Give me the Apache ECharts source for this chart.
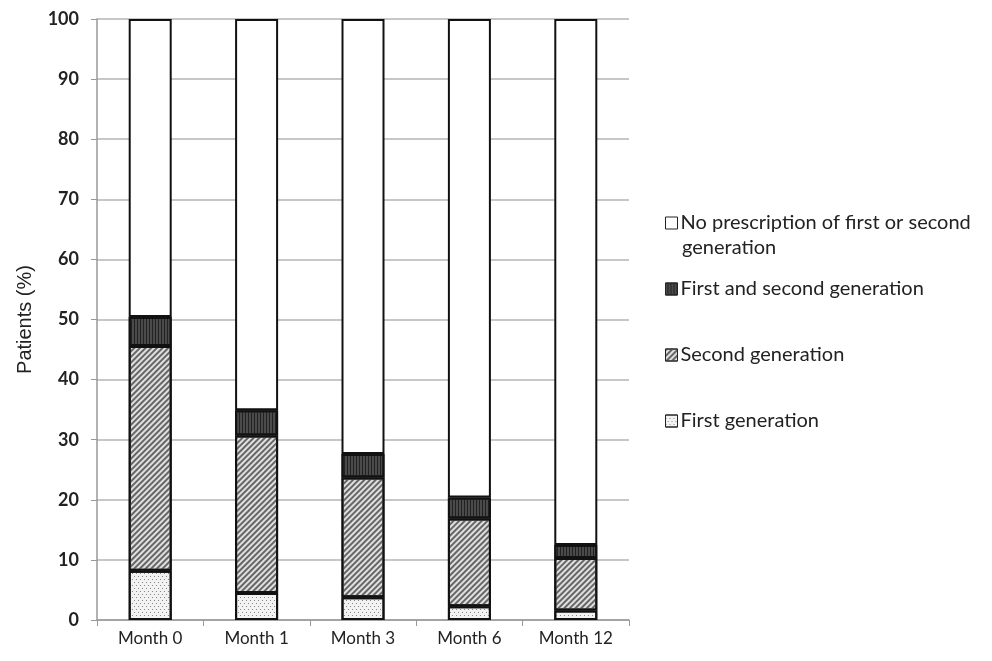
<!DOCTYPE html>
<html>
<head>
<meta charset="utf-8">
<script src="https://cdn.jsdelivr.net/npm/echarts@6/dist/echarts.min.js"></script>
<style>html,body{margin:0;padding:0;background:#fff;}#c{width:992px;height:661px;}</style>
</head>
<body>
<div id="c"></div>
<script>
var categories = ['Month 0', 'Month 1', 'Month 3', 'Month 6', 'Month 12'];
var firstGen = [8.2, 4.5, 3.8, 2.3, 1.6];
var secondGen = [37.4, 26.2, 19.9, 14.6, 8.7];
var bothGen = [4.8, 4.2, 3.9, 3.5, 2.2];
var noPrescription = [49.6, 65.1, 72.4, 79.6, 87.5];
var yTicks = [0, 10, 20, 30, 40, 50, 60, 70, 80, 90, 100];

var NAME_NONE = 'No prescription of first or second';
var NAME_BOTH = 'First and second generation';
var NAME_SECOND = 'Second generation';
var NAME_FIRST = 'First generation';

var chart = echarts.init(document.getElementById('c'));
var font = 'Lato, "Open Sans", sans-serif';
var border = {borderColor: '#111', borderWidth: 2};

chart.setOption({
  animation: false,
  backgroundColor: '#fff',
  grid: {left: 97, right: 363, top: 19, bottom: 41},
  legend: {
    orient: 'vertical',
    left: 660, top: 208,
    itemGap: 46,
    itemWidth: 12, itemHeight: 12,
    icon: 'rect',
    itemStyle: {borderWidth: 1, borderColor: '#222'},
    textStyle: {fontFamily: font, fontSize: 20, color: '#222', padding: [0, 0, 0, -2]},
    data: [NAME_NONE, NAME_BOTH, NAME_SECOND, NAME_FIRST]
  },
  graphic: [{
    type: 'text', left: 682, top: 238,
    style: {text: 'generation', font: '20px ' + font, fill: '#222'}
  }],
  xAxis: {
    type: 'category',
    data: categories,
    axisLine: {lineStyle: {color: '#999', width: 1.5}},
    axisTick: {show: true, length: 6, lineStyle: {color: '#999'}},
    axisLabel: {fontFamily: font, fontSize: 17, color: '#222', margin: 10}
  },
  yAxis: {
    type: 'value',
    min: yTicks[0], max: yTicks[yTicks.length - 1], interval: 10,
    name: 'Patients (%)',
    nameLocation: 'middle',
    nameGap: 62,
    nameTextStyle: {fontFamily: 'Liberation Sans, Arial, sans-serif', fontSize: 20, color: '#222'},
    axisLine: {show: true, lineStyle: {color: '#999', width: 1.5}},
    axisTick: {show: true, length: 6, lineStyle: {color: '#999'}},
    axisLabel: {fontFamily: font, fontSize: 18, fontWeight: 'bold', color: '#222', margin: 18},
    splitLine: {lineStyle: {color: '#b4b4b4', width: 1.5}}
  },
  series: [
    {
      name: NAME_FIRST, type: 'bar', stack: 's', barWidth: 43, data: firstGen,
      itemStyle: Object.assign({color: '#f2f2f2',
        decal: {symbol: 'rect', symbolSize: 1, dashArrayX: [[1, 3], [0, 2, 1, 1]], dashArrayY: [1, 2], color: '#888'}}, border)
    },
    {
      name: NAME_SECOND, type: 'bar', stack: 's', data: secondGen,
      itemStyle: Object.assign({color: '#e0e0e0',
        decal: {symbol: 'rect', symbolSize: 1, rotation: -Math.PI / 4, dashArrayX: [[1, 0]], dashArrayY: [1.2, 2], color: '#666'}}, border)
    },
    {
      name: NAME_BOTH, type: 'bar', stack: 's', data: bothGen,
      itemStyle: Object.assign({color: '#4a4a4a',
        decal: {symbol: 'rect', symbolSize: 1, rotation: Math.PI / 2, dashArrayX: [[1, 0]], dashArrayY: [1, 2], color: '#222'}}, border)
    },
    {
      name: NAME_NONE, type: 'bar', stack: 's', data: noPrescription,
      itemStyle: Object.assign({color: '#ffffff'}, border)
    }
  ]
});
</script>
</body>
</html>
